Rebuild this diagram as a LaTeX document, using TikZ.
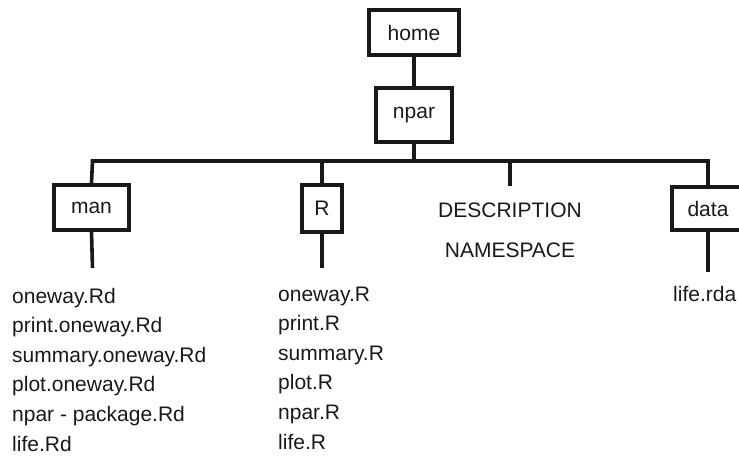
\documentclass[tikz,border=0pt]{standalone}
\usepackage{fontspec}
\setmainfont{Liberation Sans}
\begin{document}
\begin{tikzpicture}[x=1pt,y=1pt,
  every node/.style={font=\fontsize{21}{25}\selectfont, text=black!90},
  dirbox/.style={draw=black!90, line width=3.6pt, inner sep=0pt, minimum height=45pt},
  conn/.style={draw=black!90, line width=3.6pt},
  item/.style={anchor=base west, inner sep=0pt}]
\useasboundingbox (0,0) rectangle (739,-458);
\clip (0,0) rectangle (739,-458);
% boxes
\node[dirbox, minimum width=90pt] (home) at (414,-32.5) {home};
\node[dirbox, minimum width=76pt, minimum height=54pt] (npar) at (414,-115) {npar};
\node[dirbox, minimum width=75pt] (man) at (91.5,-207.5) {man};
\node[dirbox, minimum width=40pt, minimum height=47pt] (R) at (322,-208.5) {R};
\node[dirbox, minimum width=72pt, minimum height=43pt] (data) at (708,-208.5) {data};
% DESCRIPTION / NAMESPACE
\node[inner sep=0pt] (desc) at (510,-210) {DESCRIPTION};
\node[inner sep=0pt] (ns) at (510,-250) {NAMESPACE};
% bar
\coordinate (barL) at (92.5,-161);
\coordinate (barR) at (708,-161);
\coordinate (descTop) at (510,-186);
\coordinate (manEnd) at (92.5,-268);
\coordinate (REnd) at (322,-268);
\coordinate (dataEnd) at (708,-272);
\draw[conn] (home.south) -- (npar.north);
\draw[conn] (man.north) -- (barL) -- (barR) -- (data.north);
\draw[conn] (npar.south) -- (npar.south |- barL);
\draw[conn] (R.north) -- (R.north |- barL);
\draw[conn] (descTop) -- (descTop |- barL);
\draw[conn] (man.south) -- (manEnd);
\draw[conn] (R.south) -- (REnd);
\draw[conn] (data.south) -- (dataEnd);
% file lists
\node[item] (m1) at (12,-303) {oneway.Rd};
\node[item] (m2) at (12,-332.6) {print.oneway.Rd};
\node[item] (m3) at (12,-362.2) {summary.oneway.Rd};
\node[item] (m4) at (12,-391.8) {plot.oneway.Rd};
\node[item] (m5) at (12,-421.4) {npar - package.Rd};
\node[item] (m6) at (12,-451) {life.Rd};
\node[item] (r1) at (278,-301) {oneway.R};
\node[item] (r2) at (278,-330.6) {print.R};
\node[item] (r3) at (278,-360.2) {summary.R};
\node[item] (r4) at (278,-389.8) {plot.R};
\node[item] (r5) at (278,-419.4) {npar.R};
\node[item] (r6) at (278,-449) {life.R};
\node[item] (d1) at (673,-301) {life.rda};
\end{tikzpicture}
\end{document}
